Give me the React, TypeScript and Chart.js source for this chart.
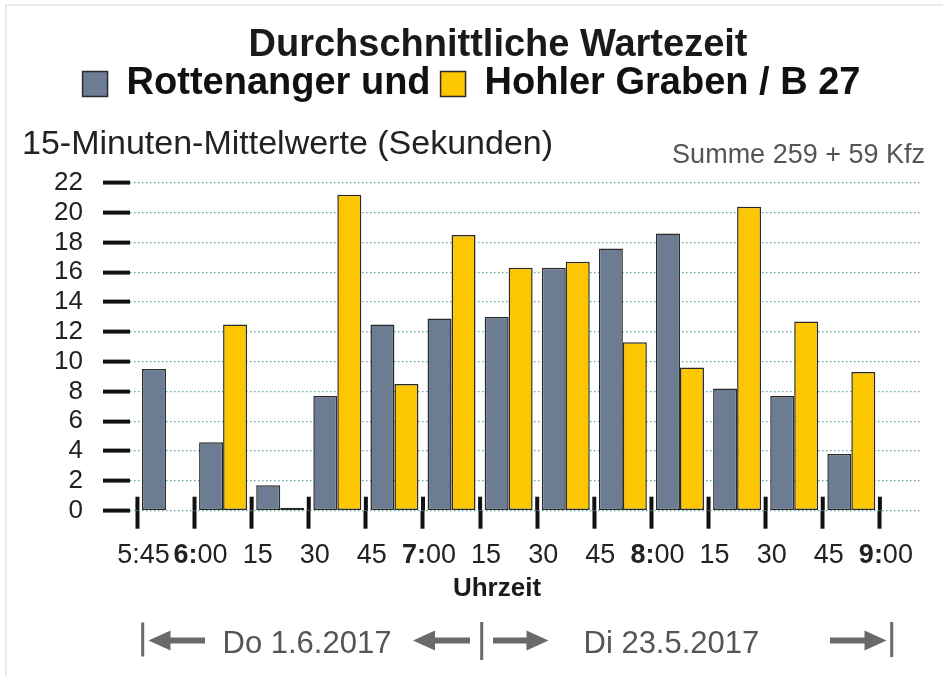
import React, { useEffect, useRef } from "react";
import { Chart, registerables } from "chart.js";

Chart.register(...registerables);

const FONT = '"Liberation Sans", Arial, Helvetica, sans-serif';

// ---- data ----
const timeLabels = ["5:45", "6:00", "15", "30", "45", "7:00", "15", "30", "45", "8:00", "15", "30", "45", "9:00"];
const rottenangerValues = [9.5, 4.6, 1.7, 7.7, 12.5, 12.9, 13.0, 16.3, 17.6, 18.6, 8.2, 7.7, 3.8];
const hohlerValues: (number | null)[] = [null, 12.5, 0.2, 21.2, 8.5, 18.5, 16.3, 16.7, 11.3, 9.6, 20.4, 12.7, 9.3];
const seriesLabels = ["Rottenanger und", "Hohler Graben / B 27"];
const titleText = "Durchschnittliche Wartezeit";
const unitText = "15-Minuten-Mittelwerte (Sekunden)";
const sumText = "Summe 259 + 59 Kfz";
const axisTitle = "Uhrzeit";
const dateLeft = "Do 1.6.2017";
const dateRight = "Di 23.5.2017";
const yMin = 0;
const yMax = 22;
const yStep = 2;

const GRAY = "#6c7d93";
const YELLOW = "#fcc600";
const EDGE = "#2a2a2a";
const ARROW = "#6a6a6a";

function drawArrow(ctx: CanvasRenderingContext2D, tailX: number, tipX: number, y: number) {
  const dir = Math.sign(tipX - tailX);
  const headLen = 22;
  const headHalf = 10;
  const shaftHalf = 3;
  const baseX = tipX - dir * headLen;
  ctx.fillStyle = ARROW;
  ctx.beginPath();
  ctx.moveTo(tailX, y - shaftHalf);
  ctx.lineTo(baseX, y - shaftHalf);
  ctx.lineTo(baseX, y - headHalf);
  ctx.lineTo(tipX, y);
  ctx.lineTo(baseX, y + headHalf);
  ctx.lineTo(baseX, y + shaftHalf);
  ctx.lineTo(tailX, y + shaftHalf);
  ctx.closePath();
  ctx.fill();
}

const decorPlugin = {
  id: "decor",
  afterDatasetsDraw(chart: any) {
    const { ctx, chartArea, scales } = chart;
    const xs = scales.x;
    ctx.save();
    ctx.strokeStyle = "#111";
    ctx.lineWidth = 4;
    xs.ticks.forEach((t: any) => {
      const px = xs.getPixelForValue(t.value);
      ctx.beginPath();
      ctx.moveTo(px, chartArea.bottom - 14);
      ctx.lineTo(px, chartArea.bottom);
      ctx.stroke();
    });
    ctx.restore();
  },
  afterDraw(chart: any) {
    const { ctx, chartArea, scales } = chart;
    const xs = scales.x;
    ctx.save();

    // faint frame
    ctx.strokeStyle = "#e3e3e8";
    ctx.lineWidth = 1.5;
    ctx.beginPath();
    ctx.moveTo(6, chart.height);
    ctx.lineTo(6, 5);
    ctx.lineTo(chart.width, 5);
    ctx.stroke();

    // title
    ctx.fillStyle = "#1a1a1a";
    ctx.font = `bold 38px ${FONT}`;
    ctx.textAlign = "center";
    ctx.textBaseline = "alphabetic";
    ctx.fillText(titleText, 498, 56);

    // sum text
    ctx.fillStyle = "#555";
    ctx.font = `27px ${FONT}`;
    ctx.textAlign = "right";
    ctx.fillText(sumText, 925, 163);

    // x tick labels (hour part bold)
    const baseY = chartArea.bottom + 52;
    timeLabels.forEach((lab, i) => {
      const px = xs.getPixelForValue(i) + 6;
      let boldPart = "";
      let regPart = lab;
      if (lab.endsWith(":00")) {
        boldPart = lab.slice(0, lab.indexOf(":") + 1);
        regPart = lab.slice(lab.indexOf(":") + 1);
      }
      ctx.font = `bold 27px ${FONT}`;
      const w1 = boldPart ? ctx.measureText(boldPart).width : 0;
      ctx.font = `27px ${FONT}`;
      const w2 = ctx.measureText(regPart).width;
      let start = px - (w1 + w2) / 2;
      ctx.textAlign = "left";
      ctx.fillStyle = "#222";
      if (boldPart) {
        ctx.font = `bold 27px ${FONT}`;
        ctx.fillText(boldPart, start, baseY);
        start += w1;
      }
      ctx.font = `27px ${FONT}`;
      ctx.fillText(regPart, start, baseY);
    });

    // axis title
    ctx.font = `bold 26px ${FONT}`;
    ctx.textAlign = "center";
    ctx.fillStyle = "#1a1a1a";
    ctx.fillText(axisTitle, 497, chartArea.bottom + 85);

    // date row
    const rowY = 640.5;
    ctx.fillStyle = ARROW;
    ctx.fillRect(141.2, 622.5, 3, 34);
    ctx.fillRect(480.2, 622, 3, 38);
    ctx.fillRect(890.2, 622, 3, 35);
    drawArrow(ctx, 205, 148.5, rowY);
    drawArrow(ctx, 470, 413, rowY);
    drawArrow(ctx, 493, 548.5, rowY);
    drawArrow(ctx, 830, 886.5, rowY);
    ctx.fillStyle = "#555";
    ctx.font = `31px ${FONT}`;
    ctx.textAlign = "left";
    ctx.fillText(dateLeft, 222.5, 652.5);
    ctx.fillText(dateRight, 583.5, 652.5);

    ctx.restore();
  },
};

export default function App() {
  const canvasRef = useRef<HTMLCanvasElement | null>(null);

  useEffect(() => {
    if (!canvasRef.current) return;
    Chart.defaults.font.family = FONT;
    const chart = new Chart(canvasRef.current, {
      type: "bar",
      data: {
        datasets: [
          {
            label: seriesLabels[0],
            data: rottenangerValues.map((v, i) => ({ x: i + 0.5, y: v })),
            backgroundColor: GRAY,
            borderColor: EDGE,
            borderWidth: 1.5,
            borderSkipped: false,
          },
          {
            label: seriesLabels[1],
            data: hohlerValues.map((v, i) => ({ x: i + 0.5, y: v })),
            backgroundColor: YELLOW,
            borderColor: EDGE,
            borderWidth: 1.5,
            borderSkipped: false,
          },
        ],
      },
      options: {
        animation: false,
        responsive: false,
        devicePixelRatio: 1,
        layout: { padding: { top: 55, left: 22, right: 22, bottom: 148.3 } },
        datasets: {
          bar: { categoryPercentage: 0.84, barPercentage: 1.0, grouped: true },
        },
        plugins: {
          title: { display: false },
          subtitle: {
            display: true,
            text: unitText,
            align: "start",
            color: "#222",
            font: { family: FONT, size: 34, weight: "normal" },
            padding: { top: 11, bottom: 18 },
            weight: 500,
          } as any,
          legend: {
            display: true,
            position: "top",
            labels: {
              boxWidth: 25,
              boxHeight: 25,
              padding: 10,
              color: "#111",
              font: { family: FONT, size: 38, weight: "bold" },
            },
          },
          tooltip: { enabled: false },
        },
        scales: {
          x: {
            type: "linear",
            position: "bottom",
            offset: false,
            min: -0.13,
            max: 13.72,
            afterBuildTicks: (scale: any) => {
              scale.ticks = timeLabels.map((_, i) => ({ value: i }));
            },
            ticks: { display: false },
            grid: {
              offset: false,
              drawOnChartArea: false,
              drawTicks: true,
              tickLength: 18,
              tickWidth: 4,
              tickColor: "#111",
            },
            border: { display: false },
          },
          y: {
            min: yMin,
            max: yMax,
            afterFit: (scale: any) => {
              scale.width = 108;
            },
            ticks: {
              stepSize: yStep,
              autoSkip: false,
              padding: 20,
              color: "#222",
              font: { family: FONT, size: 26 },
            },
            grid: {
              color: "#5fa9a2",
              lineWidth: 1.2,
              tickLength: 27,
              tickWidth: 4,
              tickColor: "#111",
              tickBorderDash: [],
            },
            border: { display: false, dash: [1.5, 2.5] },
          },
        },
      },
      plugins: [decorPlugin],
    } as any);
    return () => chart.destroy();
  }, []);

  return (
    <div style={{ position: "absolute", left: 0, top: 0, width: 943, height: 677, background: "#fff" }}>
      <canvas ref={canvasRef} width={943} height={677} style={{ display: "block" }} />
    </div>
  );
}
